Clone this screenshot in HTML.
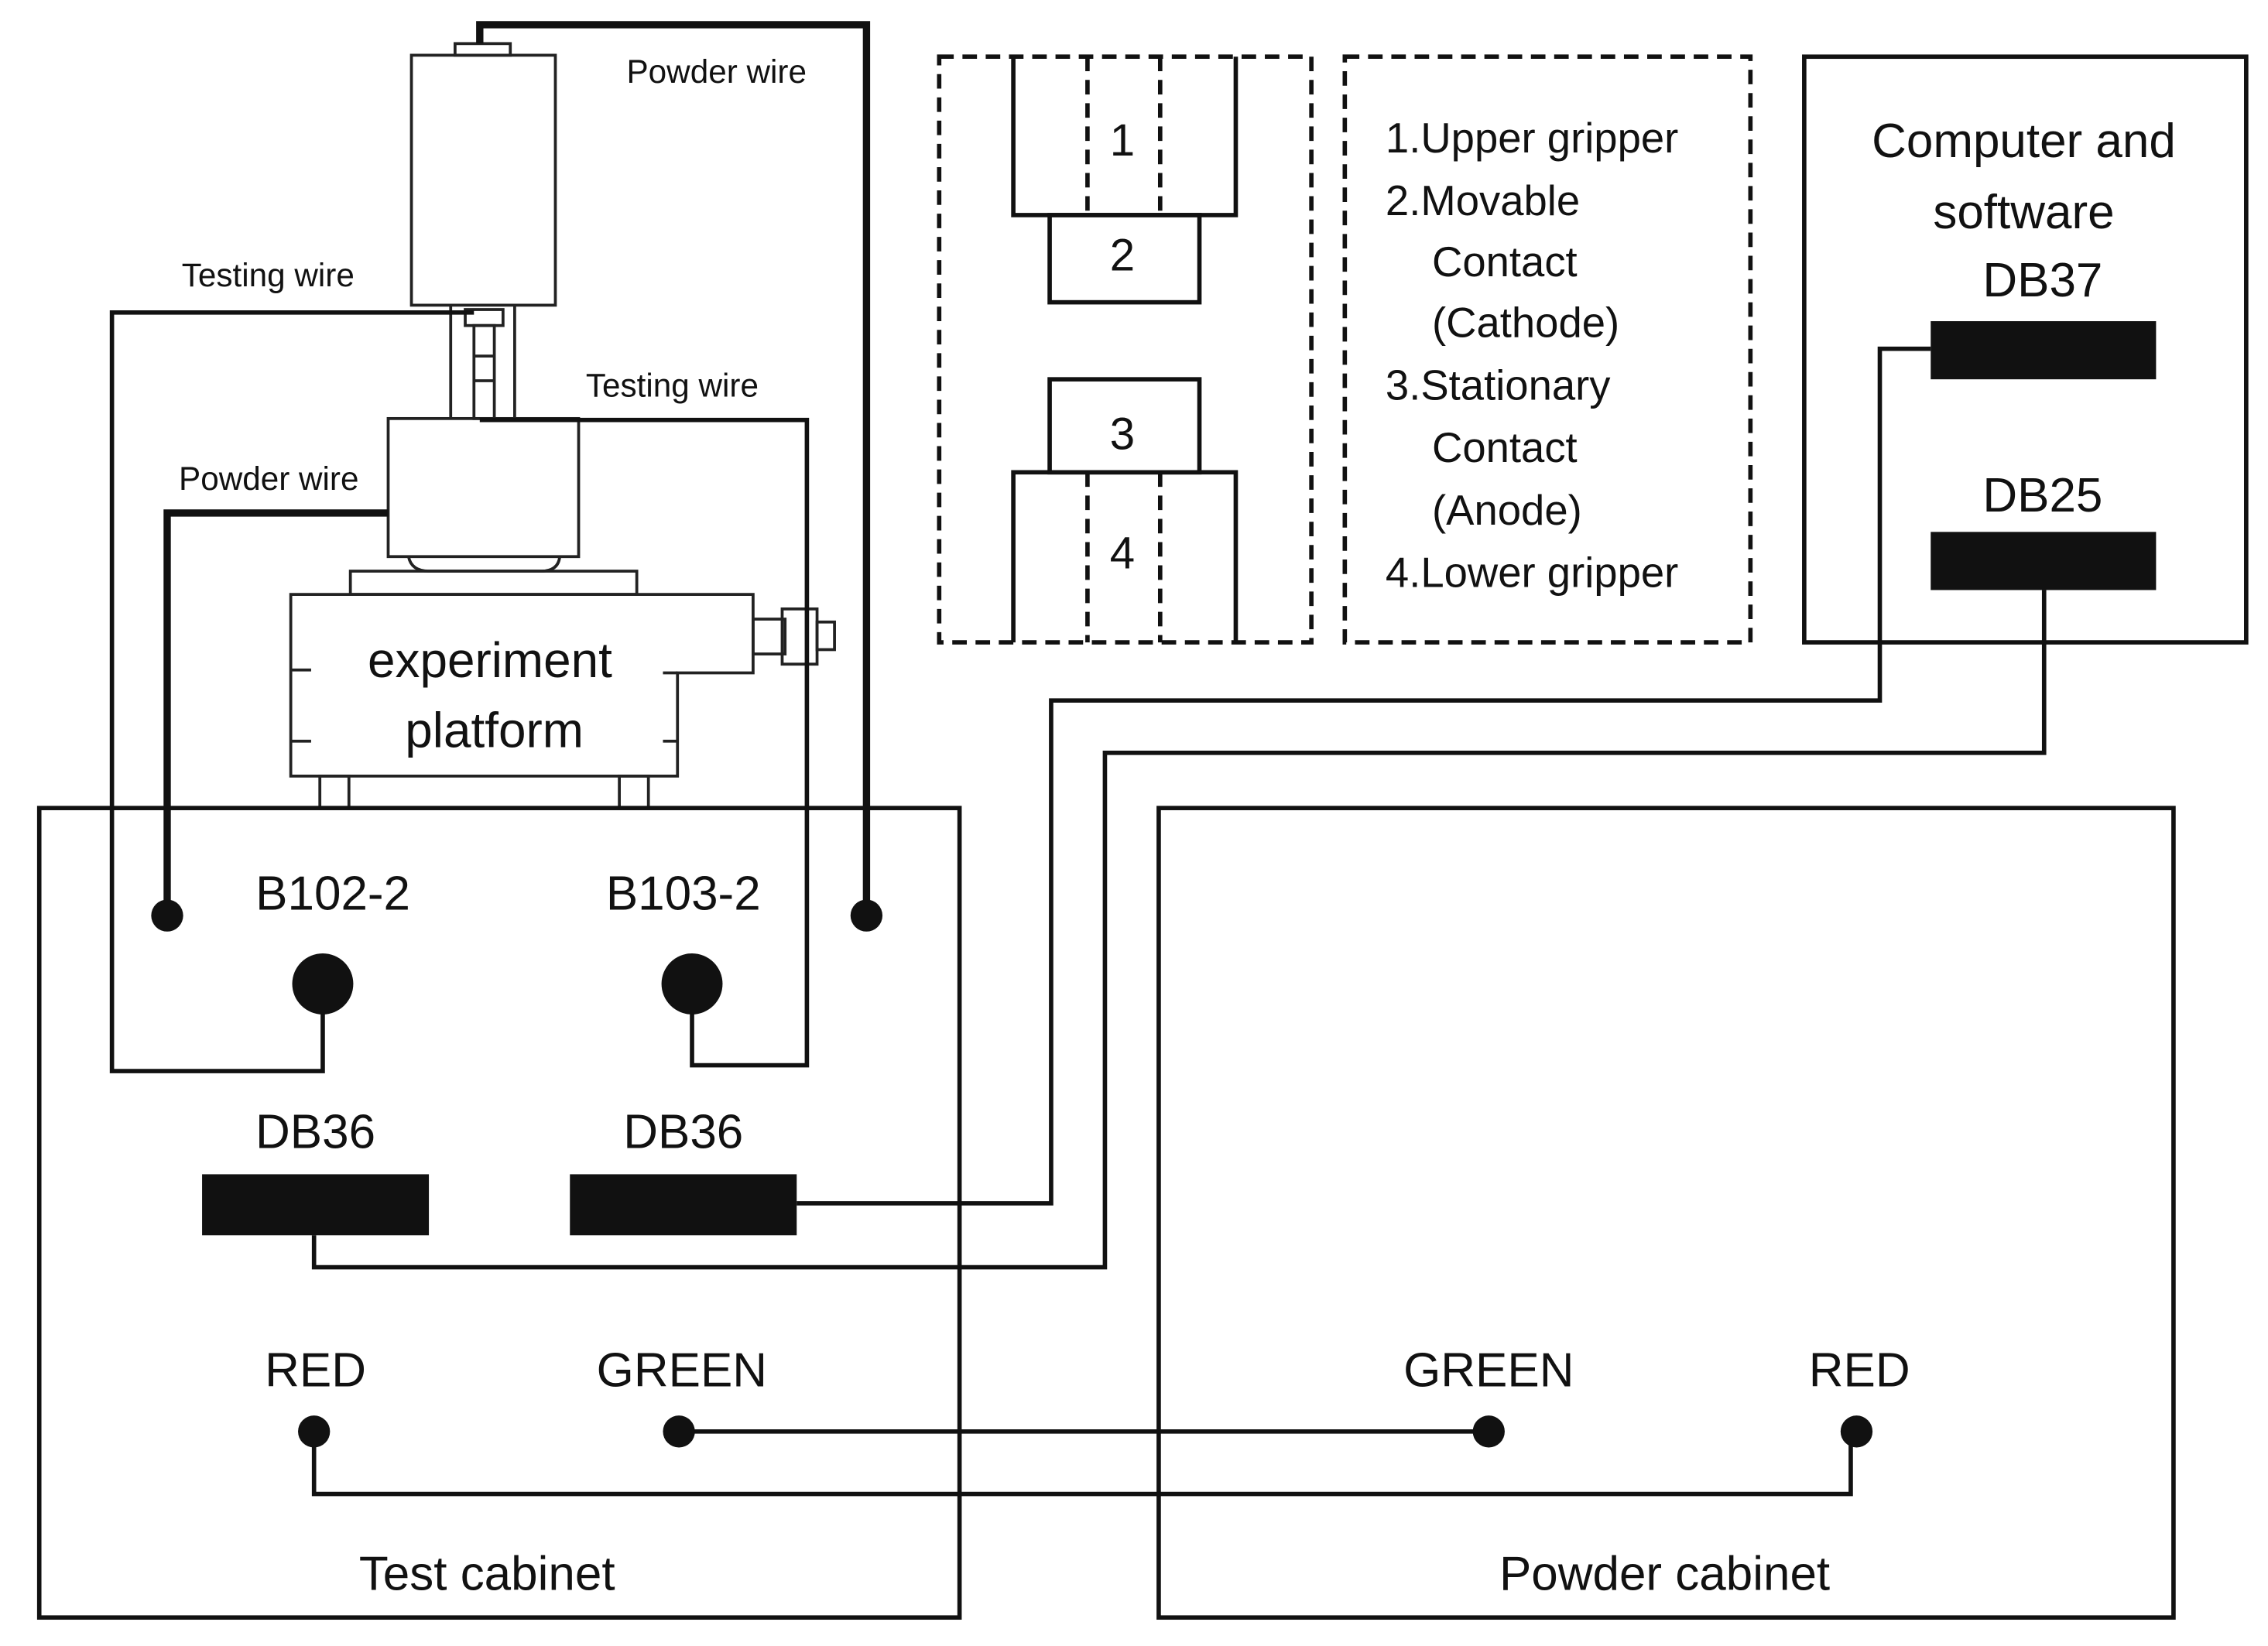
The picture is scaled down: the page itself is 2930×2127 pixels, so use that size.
<!DOCTYPE html>
<html><head><meta charset="utf-8"><style>
html,body{margin:0;padding:0;background:#fff;}
svg{display:block;}
text{font-family:"Liberation Sans",sans-serif;fill:#111;}
</style></head><body>
<svg width="2930" height="2127" viewBox="0 0 1560 1132.6" preserveAspectRatio="none" xmlns="http://www.w3.org/2000/svg">
<rect width="1560" height="1133" fill="#fff"/>
<g fill="none" stroke="#222" stroke-width="2">
 <rect x="313" y="30" width="38" height="8"/>
 <rect x="283" y="38" width="99" height="172"/>
 <line x1="310" y1="210" x2="310" y2="288"/>
 <line x1="354" y1="210" x2="354" y2="288"/>
 <rect x="320" y="213" width="26" height="11"/>
 <rect x="326" y="224" width="14" height="64"/>
 <line x1="326" y1="245" x2="340" y2="245"/>
 <line x1="326" y1="262" x2="340" y2="262"/>
 <rect x="267" y="288" width="131" height="95"/>
 <path d="M281 383 Q283 393 295 393 L372 393 Q384 393 385 383"/>
 <rect x="241" y="393" width="197" height="16"/>
 <path d="M200 409 L518 409 L518 463 L466 463 L466 534 L200 534 Z"/>
 <line x1="200" y1="461" x2="214" y2="461"/><line x1="200" y1="510" x2="214" y2="510"/>
 <line x1="456" y1="463" x2="466" y2="463"/><line x1="456" y1="510" x2="466" y2="510"/>
 <rect x="220" y="534" width="20" height="22"/><rect x="426" y="534" width="20" height="22"/>
 <rect x="518" y="426" width="22" height="24"/>
 <rect x="538" y="419" width="24" height="38"/>
 <rect x="562" y="428" width="12" height="19"/>
</g>
<g fill="none" stroke="#111" stroke-width="3">
 <rect x="27" y="556" width="633" height="557"/>
 <rect x="797" y="556" width="698" height="557"/>
 <rect x="1241" y="39" width="304" height="403"/>
 <polyline points="326,215 77,215 77,737 222,737 222,690"/>
 <polyline points="330,289 555,289 555,733 476,733 476,690"/>
 <polyline points="1328,240 1293,240 1293,482 723,482 723,828 548,828"/>
 <polyline points="1406,406 1406,518 760,518 760,872 216,872 216,850"/>
 <line x1="467" y1="985" x2="1024" y2="985"/>
 <polyline points="216,985 216,1028 1273,1028 1273,985"/>
</g>
<g fill="none" stroke="#111" stroke-width="5">
 <polyline points="330,30 330,17 596,17 596,630"/>
 <polyline points="267,353 115,353 115,630"/>
</g>
<g fill="none" stroke="#111" stroke-width="3" stroke-dasharray="10,6">
 <rect x="646" y="39" width="256" height="403"/>
 <rect x="925" y="39" width="279" height="403"/>
 <line x1="748" y1="39" x2="748" y2="148"/><line x1="798" y1="39" x2="798" y2="148"/>
 <line x1="748" y1="325" x2="748" y2="442"/><line x1="798" y1="325" x2="798" y2="442"/>
</g>
<g fill="none" stroke="#111" stroke-width="3">
 <polyline points="697,39 697,148 850,148 850,39"/>
 <rect x="722" y="148" width="103" height="60"/>
 <rect x="722" y="261" width="103" height="64"/>
 <polyline points="697,442 697,325 850,325 850,442"/>
</g>
<g fill="#111">
 <circle cx="596" cy="630" r="11"/><circle cx="115" cy="630" r="11"/>
 <circle cx="222" cy="677" r="21"/><circle cx="476" cy="677" r="21"/>
 <rect x="1328" y="221" width="155" height="40"/><rect x="1328" y="366" width="155" height="40"/>
 <rect x="139" y="808" width="156" height="42"/><rect x="392" y="808" width="156" height="42"/>
 <circle cx="216" cy="985" r="11"/><circle cx="467" cy="985" r="11"/>
 <circle cx="1024" cy="985" r="11"/><circle cx="1277" cy="985" r="11"/>
</g>
<g font-size="22.5">
 <text x="431" y="57">Powder wire</text>
 <text x="125" y="197">Testing wire</text>
 <text x="403" y="273">Testing wire</text>
 <text x="123" y="337">Powder wire</text>
</g>
<g font-size="34" text-anchor="middle">
 <text x="337" y="466">experiment</text>
 <text x="340" y="514">platform</text>
</g>
<g font-size="31" text-anchor="middle">
 <text x="772" y="107">1</text><text x="772" y="186">2</text>
 <text x="772" y="309">3</text><text x="772" y="391">4</text>
</g>
<g font-size="29">
 <text x="953" y="105">1.Upper gripper</text>
 <text x="953" y="148">2.Movable</text>
 <text x="985" y="190">Contact</text>
 <text x="985" y="232">(Cathode)</text>
 <text x="953" y="275">3.Stationary</text>
 <text x="985" y="318">Contact</text>
 <text x="985" y="361">(Anode)</text>
 <text x="953" y="404">4.Lower gripper</text>
</g>
<g font-size="33" text-anchor="middle">
 <text x="1392" y="108">Computer and</text>
 <text x="1392" y="157">software</text>
 <text x="1405" y="204">DB37</text>
 <text x="1405" y="352">DB25</text>
 <text x="229" y="626">B102-2</text>
 <text x="470" y="626">B103-2</text>
 <text x="217" y="790">DB36</text>
 <text x="470" y="790">DB36</text>
 <text x="217" y="954">RED</text>
 <text x="469" y="954">GREEN</text>
 <text x="1024" y="954">GREEN</text>
 <text x="1279" y="954">RED</text>
 <text x="335" y="1094">Test cabinet</text>
 <text x="1145" y="1094">Powder cabinet</text>
</g>
</svg>
</body></html>
